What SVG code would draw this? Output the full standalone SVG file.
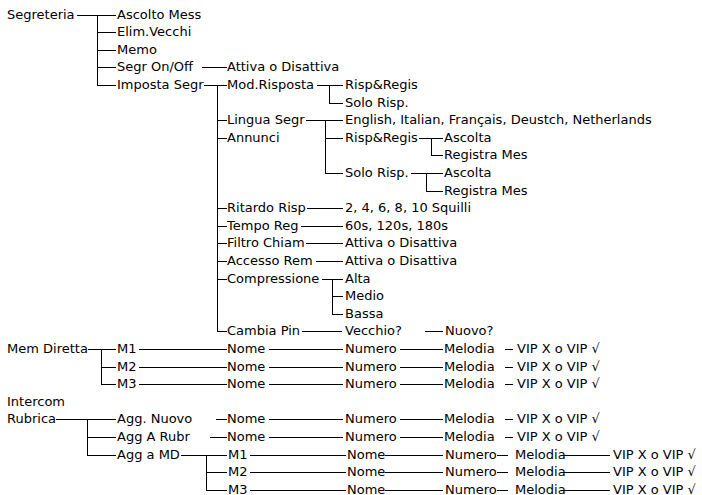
<svg xmlns="http://www.w3.org/2000/svg" width="702" height="495" viewBox="0 0 702 495">
<style>
text{font-family:"DejaVu Sans",Verdana,"Liberation Sans",sans-serif;font-size:13px;fill:#000}
.c path{stroke:#000;stroke-width:1;fill:none;shape-rendering:crispEdges}
</style>
<rect width="702" height="495" fill="#fff"/>
<g class="c" id="connectors">
<path d="M77 15.5H116M97.5 15.5V85.5M97 32.5H116M97 50.5H116M97 67.5H116M97 85.5H116"/>
<path d="M202 67.5H227"/>
<path d="M204 85.5H227M217.5 85.5V331.5H227M217 120.5H227M217 138.5H227M217 208.5H227M217 226.5H227M217 243.5H227M217 261.5H227M217 279.5H227"/>
<path d="M317 85.5H343M329.5 85.5V103.5H343"/>
<path d="M306 120.5H343M325.5 120.5V173.5H343M325 138.5H343"/>
<path d="M419 138.5H443M431.5 138.5V155.5H443"/>
<path d="M411 173.5H443M426.5 173.5V191.5H443"/>
<path d="M307 208.5H343M301 226.5H343M306 243.5H343M316 261.5H343"/>
<path d="M322 279.5H343M332.5 279.5V314.5H343M332 296.5H343"/>
<path d="M302 331.5H342M425 331.5H443"/>
<path d="M88 349.5H116M101.5 349.5V384.5H116M101 367.5H116"/>
<path d="M139 349.5H227M139 367.5H227M139 384.5H227"/>
<path d="M269 349.5H343M269 367.5H343M269 384.5H343M269 419.5H343M269 437.5H343"/>
<path d="M400 349.5H443M400 367.5H443M400 384.5H443M400 419.5H443M400 437.5H443"/>
<path d="M505 349.5H513M505 367.5H513M505 384.5H513M505 419.5H513M505 437.5H513"/>
<path d="M56 419.5H116M87.5 419.5V455.5H116M87 437.5H116"/>
<path d="M216 419.5H227M210 437.5H227M181 455.5H227M206.5 455.5V490.5H227M206 472.5H227"/>
<path d="M250 455.5H346M250 472.5H346M250 490.5H346"/>
<path d="M385 455.5H443M385 472.5H443M385 490.5H443"/>
<path d="M497 455.5H508M497 472.5H508M497 490.5H508"/>
<path d="M563 455.5H610M563 472.5H610M563 490.5H610"/>
</g>
<g id="segreteria"><text x="7" y="19">Segreteria</text></g>
<g id="ascolto-mess"><text x="117" y="19">Ascolto Mess</text></g>
<g id="elim-vecchi"><text x="117" y="36">Elim.Vecchi</text></g>
<g id="memo"><text x="117" y="54">Memo</text></g>
<g id="segr-onoff"><text x="117" y="71">Segr On/Off</text></g>
<g id="onoff-attiva"><text x="227" y="71">Attiva o Disattiva</text></g>
<g id="imposta-segr"><text x="117" y="89">Imposta Segr</text></g>
<g id="mod-risposta"><text x="227" y="89">Mod.Risposta</text></g>
<g id="mod-risp-regis"><text x="345" y="89">Risp&amp;Regis</text></g>
<g id="mod-solo-risp"><text x="345" y="107">Solo Risp.</text></g>
<g id="lingua-segr"><text x="227" y="124">Lingua Segr</text></g>
<g id="lingue"><text x="345" y="124">English, Italian, Français, Deustch, Netherlands</text></g>
<g id="annunci"><text x="227" y="142">Annunci</text></g>
<g id="ann-risp-regis"><text x="345" y="142">Risp&amp;Regis</text></g>
<g id="ann-rr-ascolta"><text x="444" y="142">Ascolta</text></g>
<g id="ann-rr-registra"><text x="444" y="159">Registra Mes</text></g>
<g id="ann-solo-risp"><text x="345" y="177">Solo Risp.</text></g>
<g id="ann-sr-ascolta"><text x="444" y="177">Ascolta</text></g>
<g id="ann-sr-registra"><text x="444" y="195">Registra Mes</text></g>
<g id="ritardo-risp"><text x="227" y="212">Ritardo Risp</text></g>
<g id="squilli"><text x="345" y="212">2, 4, 6, 8, 10 Squilli</text></g>
<g id="tempo-reg"><text x="227" y="230">Tempo Reg</text></g>
<g id="tempi"><text x="345" y="230">60s, 120s, 180s</text></g>
<g id="filtro-chiam"><text x="227" y="247">Filtro Chiam</text></g>
<g id="filtro-attiva"><text x="345" y="247">Attiva o Disattiva</text></g>
<g id="accesso-rem"><text x="227" y="265">Accesso Rem</text></g>
<g id="accesso-attiva"><text x="345" y="265">Attiva o Disattiva</text></g>
<g id="compressione"><text x="227" y="283">Compressione</text></g>
<g id="alta"><text x="345" y="283">Alta</text></g>
<g id="medio"><text x="345" y="300">Medio</text></g>
<g id="bassa"><text x="345" y="318">Bassa</text></g>
<g id="cambia-pin"><text x="227" y="335">Cambia Pin</text></g>
<g id="vecchio"><text x="345" y="335">Vecchio?</text></g>
<g id="nuovo"><text x="445" y="335">Nuovo?</text></g>
<g id="mem-diretta"><text x="7" y="353">Mem Diretta</text></g>
<g id="md-m1"><text x="117" y="353">M1</text><text x="227" y="353">Nome</text><text x="345" y="353">Numero</text><text x="444" y="353">Melodia</text><text x="517" y="353">VIP X o VIP √</text></g>
<g id="md-m2"><text x="117" y="371">M2</text><text x="227" y="371">Nome</text><text x="345" y="371">Numero</text><text x="444" y="371">Melodia</text><text x="517" y="371">VIP X o VIP √</text></g>
<g id="md-m3"><text x="117" y="388">M3</text><text x="227" y="388">Nome</text><text x="345" y="388">Numero</text><text x="444" y="388">Melodia</text><text x="517" y="388">VIP X o VIP √</text></g>
<g id="intercom"><text x="7" y="406">Intercom</text></g>
<g id="rubrica"><text x="7" y="423">Rubrica</text></g>
<g id="agg-nuovo"><text x="117" y="423">Agg. Nuovo</text><text x="227" y="423">Nome</text><text x="345" y="423">Numero</text><text x="444" y="423">Melodia</text><text x="517" y="423">VIP X o VIP √</text></g>
<g id="agg-a-rubr"><text x="117" y="441">Agg A Rubr</text><text x="227" y="441">Nome</text><text x="345" y="441">Numero</text><text x="444" y="441">Melodia</text><text x="517" y="441">VIP X o VIP √</text></g>
<g id="agg-a-md"><text x="117" y="459">Agg a MD</text></g>
<g id="amd-m1"><text x="228" y="459">M1</text><text x="347" y="459">Nome</text><text x="445" y="459">Numero</text><text x="515" y="459">Melodia</text><text x="613" y="459">VIP X o VIP √</text></g>
<g id="amd-m2"><text x="228" y="476">M2</text><text x="347" y="476">Nome</text><text x="445" y="476">Numero</text><text x="515" y="476">Melodia</text><text x="613" y="476">VIP X o VIP √</text></g>
<g id="amd-m3"><text x="228" y="494">M3</text><text x="347" y="494">Nome</text><text x="445" y="494">Numero</text><text x="515" y="494">Melodia</text><text x="613" y="494">VIP X o VIP √</text></g>
</svg>
